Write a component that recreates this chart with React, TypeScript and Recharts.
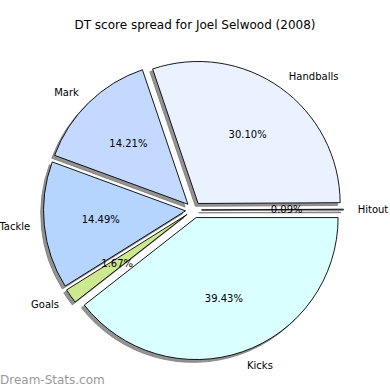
import { PieChart, Pie, Cell, Sector } from 'recharts'

// slices go counter-clockwise from 3 o'clock, like the original
const categories = ['Hitout', 'Handballs', 'Mark', 'Tackle', 'Goals', 'Kicks']
const shares = [0.09, 30.1, 14.21, 14.49, 1.67, 39.43]
const colors = ['#f2f2ff', '#ebf2ff', '#c4d9ff', '#b5d5ff', '#cce98f', '#d9ffff']

const data = categories.map((name, i) => ({ name, value: shares[i] }))

const RAD = Math.PI / 180
const EXPLODE = 8
const SHADOW = { dx: -2.8, dy: 2.8 }

if (typeof document !== 'undefined') document.body.style.margin = '0'

const offset = (angle: number, d: number) => ({
  x: d * Math.cos(-angle * RAD),
  y: d * Math.sin(-angle * RAD),
})

const ExplodedSlice = (props: any) => {
  const { cx, cy, innerRadius, outerRadius, startAngle, endAngle, midAngle, fill } = props
  const o = offset(midAngle, EXPLODE)
  return (
    <g>
      <Sector
        cx={cx + o.x + SHADOW.dx} cy={cy + o.y + SHADOW.dy}
        innerRadius={innerRadius} outerRadius={outerRadius}
        startAngle={startAngle} endAngle={endAngle}
        fill="#939393" stroke="#777" strokeWidth={0.8}
      />
      <Sector
        cx={cx + o.x} cy={cy + o.y}
        innerRadius={innerRadius} outerRadius={outerRadius}
        startAngle={startAngle} endAngle={endAngle}
        fill={fill} stroke="#000" strokeWidth={0.9}
      />
    </g>
  )
}

const SliceLabel = (props: any) => {
  const { cx, cy, midAngle, outerRadius, name, value } = props
  const o = offset(midAngle, EXPLODE)
  const ex = cx + o.x
  const ey = cy + o.y
  const out = offset(midAngle, outerRadius * 1.1)
  const pct = offset(midAngle, outerRadius * 0.6)
  return (
    <g fontFamily="DejaVu Sans" fontSize={10} fill="#000">
      <text x={ex + out.x} y={ey + out.y} textAnchor={out.x > 0 ? 'start' : 'end'} dominantBaseline="central">
        {name}
      </text>
      <text x={ex + pct.x} y={ey + pct.y} textAnchor="middle" dominantBaseline="central">
        {value.toFixed(2)}%
      </text>
    </g>
  )
}

export default function App() {
  return (
    <div style={{ position: 'relative', width: 390, height: 390, background: '#fff' }}>
      <PieChart width={390} height={390} margin={{ top: 0, right: 0, bottom: 0, left: 0 }}>
        <text x={195} y={25} textAnchor="middle" dominantBaseline="central"
          fontFamily="DejaVu Sans" fontSize={12} fill="#000">
          DT score spread for Joel Selwood (2008)
        </text>
        <Pie
          data={data}
          dataKey="value"
          nameKey="name"
          cx={193.5}
          cy={210}
          outerRadius={142}
          startAngle={0}
          endAngle={360}
          shape={ExplodedSlice}
          label={SliceLabel}
          labelLine={false}
          isAnimationActive={false}
        >
          {data.map((d, i) => <Cell key={d.name} fill={colors[i]} />)}
        </Pie>
        <text x={0} y={380} dominantBaseline="central"
          fontFamily="DejaVu Sans" fontSize={12} fontWeight={500} fill="#999">
          Dream-Stats.com
        </text>
      </PieChart>
    </div>
  )
}
